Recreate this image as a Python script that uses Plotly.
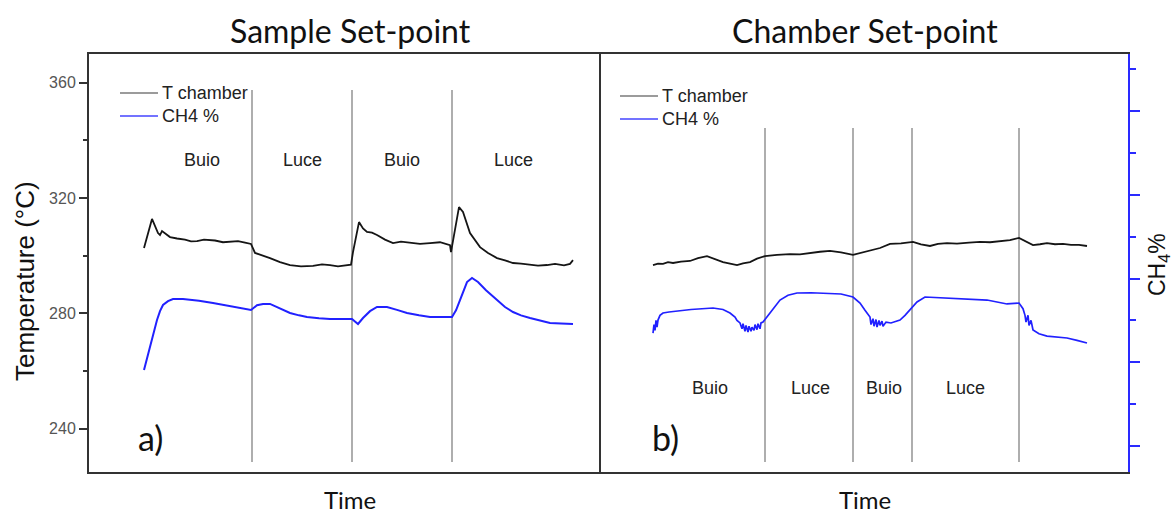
import plotly.graph_objects as go

# ---------------- data (time in arbitrary units) ----------------
# Panel a) Sample Set-point
a_t_time = [55, 63, 69, 71, 73, 77, 81, 88, 96, 102, 108, 115, 126, 134, 141, 149, 156, 162,
            166, 173, 181, 191, 201, 212, 224, 233, 241, 249, 256, 262,
            264, 270, 274, 278, 283, 288, 296, 304, 312, 321, 331, 341, 351, 361,
            362, 370, 374, 381, 391, 399, 408, 416, 424, 432, 441, 449, 458, 466, 475, 481, 484]
a_t_temp = [302.7, 312.8, 307.9, 307.2, 308.6, 307.4, 306.5, 306.0, 305.6, 305.0, 305.1, 305.6, 305.3, 304.7, 304.8, 305.1, 304.6, 304.1,
            301.0, 300.2, 299.2, 297.8, 296.8, 296.3, 296.5, 297.0, 296.8, 296.3, 296.6, 296.9,
            301.3, 311.7, 309.5, 308.3, 308.0, 307.2, 305.6, 304.4, 304.9, 304.6, 304.1, 304.4, 304.7, 303.7,
            301.3, 316.9, 315.2, 307.9, 303.0, 301.0, 299.2, 298.4, 297.5, 297.3, 297.0, 296.6, 296.8, 297.2, 296.7, 297.2, 298.5]

a_c_time = [55, 58, 61, 64, 68, 71, 74, 79, 84, 94, 110, 124, 145, 162,
            168, 174, 181, 191, 201, 210, 218, 230, 241, 263,
            266, 269, 274, 281, 288, 298, 308, 318, 330, 341, 363,
            367, 371, 375, 378, 383, 389, 397, 408, 416, 424, 432, 441, 451, 461, 472, 484]
a_c_ch4 = [1.907, 2.045, 2.182, 2.345, 2.504, 2.610, 2.684, 2.730, 2.755, 2.755, 2.735, 2.707, 2.665, 2.624,
           2.680, 2.696, 2.696, 2.640, 2.588, 2.560, 2.540, 2.525, 2.516, 2.516,
           2.490, 2.457, 2.528, 2.610, 2.660, 2.660, 2.625, 2.588, 2.560, 2.540, 2.540,
           2.620, 2.743, 2.860, 2.958, 3.006, 2.958, 2.860, 2.743, 2.660, 2.600, 2.560, 2.528, 2.495, 2.469, 2.462, 2.457]

a_switch = [163, 263, 363]
a_labels = ["Buio", "Luce", "Buio", "Luce"]
a_label_time = [113, 213, 313, 424]

# Panel b) Chamber Set-point
b_t_time = [52, 57, 62, 67, 72, 80, 89, 97, 106, 114, 122, 129, 136, 142, 149, 156, 164, 176, 189, 199, 209, 219,
            229, 240, 252, 260, 269, 279, 289, 300, 312, 320, 329, 337, 346, 356, 368, 379, 389, 399, 409, 418,
            425, 432, 439, 446, 454, 462, 470, 478, 486]
b_t_temp = [296.8, 297.3, 297.2, 297.8, 297.5, 298.0, 298.2, 299.2, 299.9, 298.9, 297.8, 297.3, 296.8, 297.4, 297.8, 299.0, 299.9, 300.3, 300.6, 300.5, 301.0, 301.4,
            301.7, 301.2, 300.3, 301.0, 302.0, 302.7, 304.1, 304.3, 304.8, 304.0, 303.4, 304.1, 304.4, 304.2, 304.6, 304.8, 304.7, 305.1, 305.4, 306.2,
            305.0, 303.7, 304.0, 304.4, 304.0, 304.1, 303.8, 303.8, 303.4]

b_c_time = [52, 53, 54, 55, 56, 57, 59, 62, 68, 76, 90, 112, 122, 129, 134, 136, 139, 141, 142, 144, 145, 147, 148, 150, 151,
            153, 154, 156, 157, 159, 160, 162, 166, 172, 179, 187, 196, 210, 222, 240, 252, 259, 264, 269, 270, 272, 273,
            275, 276, 278, 279, 281, 282, 285, 290, 299, 304, 309, 316, 324, 333, 346, 366, 386, 406, 418, 422, 424, 425,
            427, 428, 430, 432, 438, 446, 456, 466, 476, 486]
b_c_ch4 = [2.349, 2.45, 2.38, 2.50, 2.42, 2.504, 2.56, 2.588, 2.600, 2.612, 2.630, 2.648, 2.630, 2.588, 2.540, 2.500, 2.469, 2.400,
           2.460, 2.370, 2.440, 2.360, 2.430, 2.370, 2.420, 2.380, 2.450, 2.390, 2.460, 2.400, 2.470, 2.481, 2.540, 2.640,
           2.743, 2.800, 2.827, 2.830, 2.827, 2.815, 2.779, 2.707, 2.620, 2.540, 2.450, 2.520, 2.430, 2.510, 2.420, 2.500,
           2.440, 2.490, 2.430, 2.480, 2.469, 2.504, 2.560, 2.624, 2.720, 2.779, 2.775, 2.767, 2.758, 2.743, 2.696, 2.707,
           2.640, 2.560, 2.480, 2.560, 2.440, 2.500, 2.385, 2.340, 2.313, 2.300, 2.290, 2.262, 2.230]

b_switch = [164, 252, 311, 418]
b_labels = ["Buio", "Luce", "Buio", "Luce"]
b_label_time = [109, 209, 283, 364]

legend_names = ["T chamber", "CH4 %"]
legend_colors = ["#7a7a7a", "#4444ff"]

temp_range = [225, 370]
ch4_range = [0.69, 5.68]
switch_top = {"a": 357.5, "b": 344.3}
switch_bottom = 228.5

BLACK = "#151515"
BLUE = "#2121ff"
GREY = "#9a9a9a"
TXT = "Liberation Sans"
HUM = "Lato"

def vlines(xs, top, bottom):
    xx, yy = [], []
    for x in xs:
        xx += [x, x, None]
        yy += [top, bottom, None]
    return xx, yy

fig = go.Figure()

# panel a
vx, vy = vlines(a_switch, switch_top["a"], switch_bottom)
fig.add_trace(go.Scatter(x=vx, y=vy, mode="lines", line=dict(color=GREY, width=1.6),
                         xaxis="x", yaxis="y", showlegend=False, hoverinfo="skip"))
fig.add_trace(go.Scatter(x=a_t_time, y=a_t_temp, mode="lines", line=dict(color=BLACK, width=1.8),
                         xaxis="x", yaxis="y", name="T chamber", showlegend=False))
fig.add_trace(go.Scatter(x=a_c_time, y=a_c_ch4, mode="lines", line=dict(color=BLUE, width=2),
                         xaxis="x", yaxis="y2", name="CH4 %", showlegend=False))
# panel b
vx, vy = vlines(b_switch, switch_top["b"], switch_bottom)
fig.add_trace(go.Scatter(x=vx, y=vy, mode="lines", line=dict(color=GREY, width=1.6),
                         xaxis="x2", yaxis="y3", showlegend=False, hoverinfo="skip"))
fig.add_trace(go.Scatter(x=b_t_time, y=b_t_temp, mode="lines", line=dict(color=BLACK, width=1.8),
                         xaxis="x2", yaxis="y3", name="T chamber", showlegend=False))
fig.add_trace(go.Scatter(x=b_c_time, y=b_c_ch4, mode="lines", line=dict(color=BLUE, width=1.7),
                         xaxis="x2", yaxis="y4", name="CH4 %", showlegend=False))

split = 512 / 1039
axis_line = dict(showline=True, linecolor="#333333", linewidth=2, mirror=True,
                 showgrid=False, zeroline=False, showticklabels=False, ticks="")

fig.update_layout(
    width=1174, height=513,
    margin=dict(l=89, r=46, t=54, b=41),
    paper_bgcolor="white", plot_bgcolor="white",
    font=dict(family=TXT, color="#222222"),
    showlegend=False,
    xaxis=dict(domain=[0, split], range=[0, 512], **axis_line),
    xaxis2=dict(domain=[split, 1], range=[0, 527], anchor="y3", **axis_line),
    yaxis=dict(domain=[0, 1], range=temp_range, showline=True, linecolor="#333333", linewidth=2,
               mirror=False, showgrid=False, zeroline=False,
               ticks="outside", ticklen=8, tickwidth=1.5, tickcolor="#333333",
               tick0=240, dtick=40, tickfont=dict(family=TXT, size=16, color="#555555"),
               minor=dict(dtick=20, ticks="outside", ticklen=4, tickwidth=1.5, tickcolor="#333333")),
    yaxis2=dict(range=ch4_range, overlaying="y", anchor="x", visible=False),
    yaxis3=dict(domain=[0, 1], range=temp_range, anchor="x2", showline=True, linecolor="#333333",
                linewidth=2, mirror=False, showgrid=False, zeroline=False, showticklabels=False, ticks=""),
    yaxis4=dict(range=ch4_range, overlaying="y3", anchor="x2", side="right",
                showline=True, linecolor="#2a2aff", linewidth=2, showgrid=False, zeroline=False,
                showticklabels=False, ticks="outside", ticklen=10, tickwidth=1.5, tickcolor="#2a2aff",
                tick0=1, dtick=1,
                minor=dict(dtick=0.5, ticks="outside", ticklen=6, tickwidth=1.5, tickcolor="#2a2aff")),
)

def px_x(p):
    return (p - 89) / 1039

def px_y(p):
    return 1 - (p - 54) / 418

def txt(text, x, y, size, family=TXT, xref="paper", angle=0, color="#111111", xanchor="center"):
    return dict(text=text, x=x, y=y, xref=xref, yref="paper", xanchor=xanchor, yanchor="middle",
                textangle=angle, showarrow=False, font=dict(family=family, size=size, color=color))

ann = []
shapes = []
ann.append(txt("Sample Set-point", px_x(350), px_y(31), 32, HUM))
ann.append(txt("Chamber Set-point", px_x(865), px_y(31), 32, HUM))
for cx in (350, 865):
    ann.append(txt("Time", px_x(cx), px_y(499), 24, HUM))
ann.append(txt("Temperature (°C)", px_x(25), px_y(281), 26, angle=-90))
ann.append(txt("CH<sub>4</sub>%", px_x(1158), px_y(265), 23, angle=-90))
for lab, tx in zip(a_labels, a_label_time):
    ann.append(txt(lab, tx, px_y(160), 18, xref="x", color="#222222"))
for lab, tx in zip(b_labels, b_label_time):
    ann.append(txt(lab, tx, px_y(388), 18, xref="x2", color="#222222"))
ann.append(txt("a)", px_x(150), px_y(437), 34, HUM))
ann.append(txt("b)", px_x(665), px_y(437), 34, HUM))

# legends (sample line + label), one per panel
for x0, y0 in [(120, 93), (620, 96)]:
    for i, (name, col) in enumerate(zip(legend_names, legend_colors)):
        yy = y0 + 23 * i
        shapes.append(dict(type="line", xref="paper", yref="paper",
                           x0=px_x(x0), x1=px_x(x0 + 38), y0=px_y(yy), y1=px_y(yy),
                           line=dict(color=col, width=1.5)))
        ann.append(txt(name, px_x(x0 + 40), px_y(yy), 18, color="#222222", xanchor="left"))

fig.update_layout(annotations=ann, shapes=shapes)

fig.write_html("out.html")
